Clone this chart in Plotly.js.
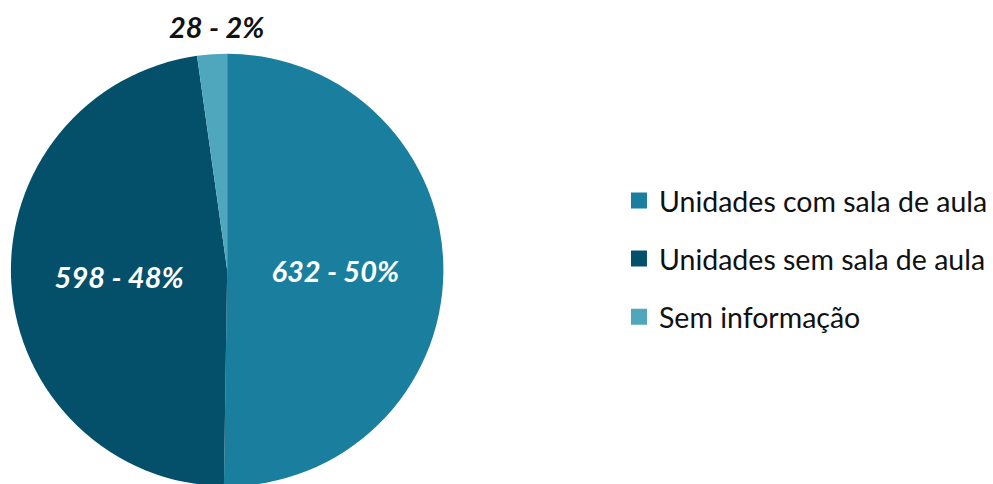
<!DOCTYPE html>
<html>
<head>
<meta charset="utf-8">
<script src="https://cdn.plot.ly/plotly-3.0.1.min.js"></script>
<style>
html,body{margin:0;padding:0;overflow:hidden;background:#fff;}
#chart{width:993px;height:488px;}
</style>
</head>
<body>
<div id="chart"></div>
<script>
const categories = ['Unidades com sala de aula', 'Unidades sem sala de aula', 'Sem informação'];
const values = [632, 598, 28];
const colors = ['#1a7f9e', '#04506a', '#4ea7bd'];
const textPositions = ['inside', 'inside', 'none'];

const W = 993, H = 488;
const total = values.reduce((a, b) => a + b, 0);

const pie = {
  type: 'pie',
  labels: categories,
  values: values,
  sort: false,
  direction: 'clockwise',
  rotation: 0,
  marker: {colors: colors, line: {width: 0}},
  texttemplate: '<b><i>%{value} - %{percent:.0%}</i></b>',
  textposition: textPositions,
  insidetextorientation: 'horizontal',
  textfont: {family: 'Lato', size: 29, color: '#ffffff'},
  hoverinfo: 'label+value+percent',
  showlegend: false,
  domain: {x: [11 / W, 447 / W], y: [0, 436 / H]}
};

const legendTraces = categories.map((c, i) => ({
  type: 'scatter',
  x: [null], y: [null],
  mode: 'markers',
  name: c,
  legendgroup: 'g' + i,
  marker: {symbol: 'square', size: 16, color: colors[i]},
  showlegend: true,
  hoverinfo: 'skip'
}));

// label for the small slice, drawn above the pie
const smallIdx = 2;
const smallText = '<b><i>' + values[smallIdx] + ' - ' + Math.round(values[smallIdx] / total * 100) + '%</i></b>';

const layout = {
  width: W, height: H,
  margin: {l: 0, r: 0, t: 0, b: 0},
  paper_bgcolor: '#ffffff',
  plot_bgcolor: 'rgba(0,0,0,0)',
  xaxis: {visible: false, domain: [0.99, 1]},
  yaxis: {visible: false, domain: [0.99, 1]},
  showlegend: true,
  legend: {
    x: 624 / W, xanchor: 'left',
    y: 1 - 259 / H, yanchor: 'middle',
    font: {family: 'Lato', size: 28.5, color: '#111111'},
    tracegroupgap: 18,
    bgcolor: 'rgba(0,0,0,0)'
  },
  annotations: [{
    xref: 'paper', yref: 'paper',
    x: 218 / W, y: 1 - 26 / H,
    xanchor: 'center', yanchor: 'middle',
    text: smallText, showarrow: false,
    font: {family: 'Lato', size: 29, color: '#111111'}
  }]
};

Plotly.newPlot('chart', [pie].concat(legendTraces), layout, {displayModeBar: false, staticPlot: true});
</script>
</body>
</html>
